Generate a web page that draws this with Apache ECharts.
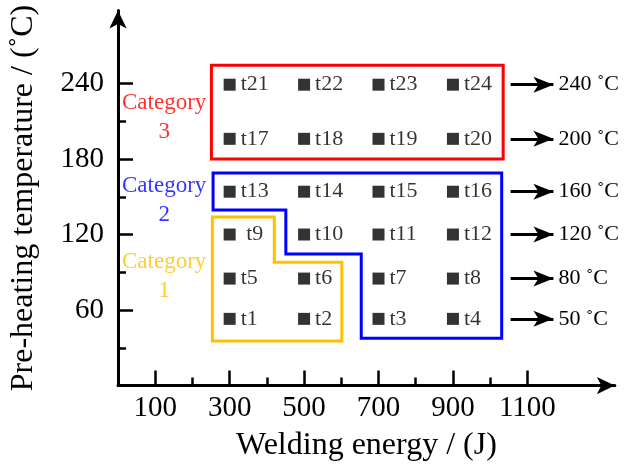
<!DOCTYPE html>
<html>
<head>
<meta charset="utf-8">
<script src="https://cdn.jsdelivr.net/npm/echarts@6/dist/echarts.min.js"></script>
<style>html,body{margin:0;padding:0;background:#fff;}#c{width:626px;height:472px;}</style>
</head>
<body>
<div id="c"></div>
<script>
// ---- data ----
const energies = [300, 500, 700, 900];              // J, marker columns
const rowTemps = [53, 85, 120, 154, 196, 239];       // plotted row positions (°C axis)
const pointNames = [
  ['t1', 't2', 't3', 't4'],
  ['t5', 't6', 't7', 't8'],
  [' t9', 't10', 't11', 't12'],
  ['t13', 't14', 't15', 't16'],
  ['t17', 't18', 't19', 't20'],
  ['t21', 't22', 't23', 't24']
];
const arrowLabels = ['50 ˚C', '80 ˚C', '120 ˚C', '160 ˚C', '200 ˚C', '240 ˚C'];
const arrowFrom = 1055, arrowTo = 1170;
const xTickLabels = [100, 300, 500, 700, 900, 1100];
const xMinorTicks = [200, 400, 600, 800, 1000];
const yTickLabels = [60, 120, 180, 240];
const yMinorTicks = [30, 90, 150, 210];
const cat3Box = [[251, 180], [251, 254.5], [1035, 254.5], [1035, 180], [251, 180]];
const cat2Box = [[255.5, 168.8], [1031, 168.8], [1031, 37.6], [653.6, 37.6], [653.6, 104.5], [451, 104.5], [451, 139.5], [255.5, 139.5], [255.5, 168.8]];
const cat1Box = [[253.6, 134], [420, 134], [420, 98], [601.6, 98], [601.6, 35.4], [253.6, 35.4], [253.6, 134]];
const categories = ['Category\n1', 'Category\n2', 'Category\n3'];
const categoryAnchors = [[124, 87], [124, 147], [124, 213]];
const colors = ['#FFC000', '#0000FF', '#FF0000'];

// ---- build ----
const pts = [];
rowTemps.forEach((t, r) => energies.forEach((e, c) => pts.push([e, t, pointNames[r][c]])));
const FONT = 'Liberation Serif';
const XMAX = 1335, YMAX = 298;

const chart = echarts.init(document.getElementById('c'));
const boxSeries = [cat1Box, cat2Box, cat3Box].map((b, i) => ({
  type: 'line', data: b, symbol: 'none', silent: true, z: 3,
  lineStyle: { color: colors[i], width: 3, join: 'miter', cap: 'square' }
}));
chart.setOption({
  animation: false,
  grid: { left: 114.2, bottom: 86.4, width: XMAX * 0.375, height: YMAX * 1.259, containLabel: false },
  xAxis: [{
    type: 'value', min: 0, max: XMAX, position: 'bottom',
    name: 'Welding energy / (J)', nameLocation: 'middle', nameGap: 44,
    nameTextStyle: { fontFamily: FONT, fontSize: 32, color: '#000' },
    axisLine: { show: true, symbol: ['none', 'arrow'], symbolSize: [13, 18], lineStyle: { color: '#000', width: 3 } },
    axisTick: { show: true, inside: true, length: 15, customValues: xTickLabels, lineStyle: { color: '#000', width: 2.5 } },
    axisLabel: { customValues: xTickLabels, margin: 8, formatter: v => String(v), fontFamily: FONT, fontSize: 29, color: '#000' },
    splitLine: { show: false }
  }, {
    type: 'value', min: 0, max: XMAX, position: 'bottom', gridIndex: 0,
    axisLine: { show: false },
    axisTick: { show: true, inside: true, length: 8, customValues: xMinorTicks, lineStyle: { color: '#000', width: 2.5 } },
    axisLabel: { show: false }, splitLine: { show: false }
  }],
  yAxis: [{
    type: 'value', min: 0, max: YMAX, position: 'left',
    name: 'Pre-heating temperature / (˚C)', nameLocation: 'middle', nameGap: 78,
    nameTextStyle: { fontFamily: FONT, fontSize: 32, color: '#000' },
    axisLine: { show: true, symbol: ['none', 'arrow'], symbolSize: [13, 18], lineStyle: { color: '#000', width: 3 } },
    axisTick: { show: true, inside: true, length: 15, customValues: yTickLabels, lineStyle: { color: '#000', width: 2.5 } },
    axisLabel: { customValues: yTickLabels, margin: 14, formatter: v => String(v), fontFamily: FONT, fontSize: 29, color: '#000' },
    splitLine: { show: false }
  }, {
    type: 'value', min: 0, max: YMAX, position: 'left', gridIndex: 0,
    axisLine: { show: false },
    axisTick: { show: true, inside: true, length: 8, customValues: yMinorTicks, lineStyle: { color: '#000', width: 2.5 } },
    axisLabel: { show: false }, splitLine: { show: false }
  }],
  series: [
    ...boxSeries,
    {
      type: 'scatter', data: pts, symbol: 'rect', symbolSize: 12, z: 5,
      itemStyle: { color: '#000' },
      label: { show: true, position: 'right', distance: 5, formatter: p => p.data[2],
        fontFamily: FONT, fontSize: 22, color: '#000' },
      markLine: {
        silent: true, symbol: ['none', 'arrow'], symbolSize: [12, 20],
        lineStyle: { color: '#000', width: 3, type: 'solid' },
        label: { show: true, position: 'end', distance: 5, fontFamily: FONT, fontSize: 22, color: '#000',
          formatter: p => p.data.txt },
        data: rowTemps.map((t, i) => [{ coord: [arrowFrom, t], txt: arrowLabels[i] }, { coord: [arrowTo, t] }])
      }
    },
    {
      type: 'scatter', symbolSize: 0, z: 5, silent: true,
      data: categoryAnchors.map((a, i) => ({ value: a, name: categories[i],
        label: { color: colors[i] } })),
      label: { show: true, position: 'inside', formatter: p => p.name,
        fontFamily: FONT, fontSize: 23, lineHeight: 29, align: 'center', verticalAlign: 'middle' }
    }
  ]
});
</script>
</body>
</html>
